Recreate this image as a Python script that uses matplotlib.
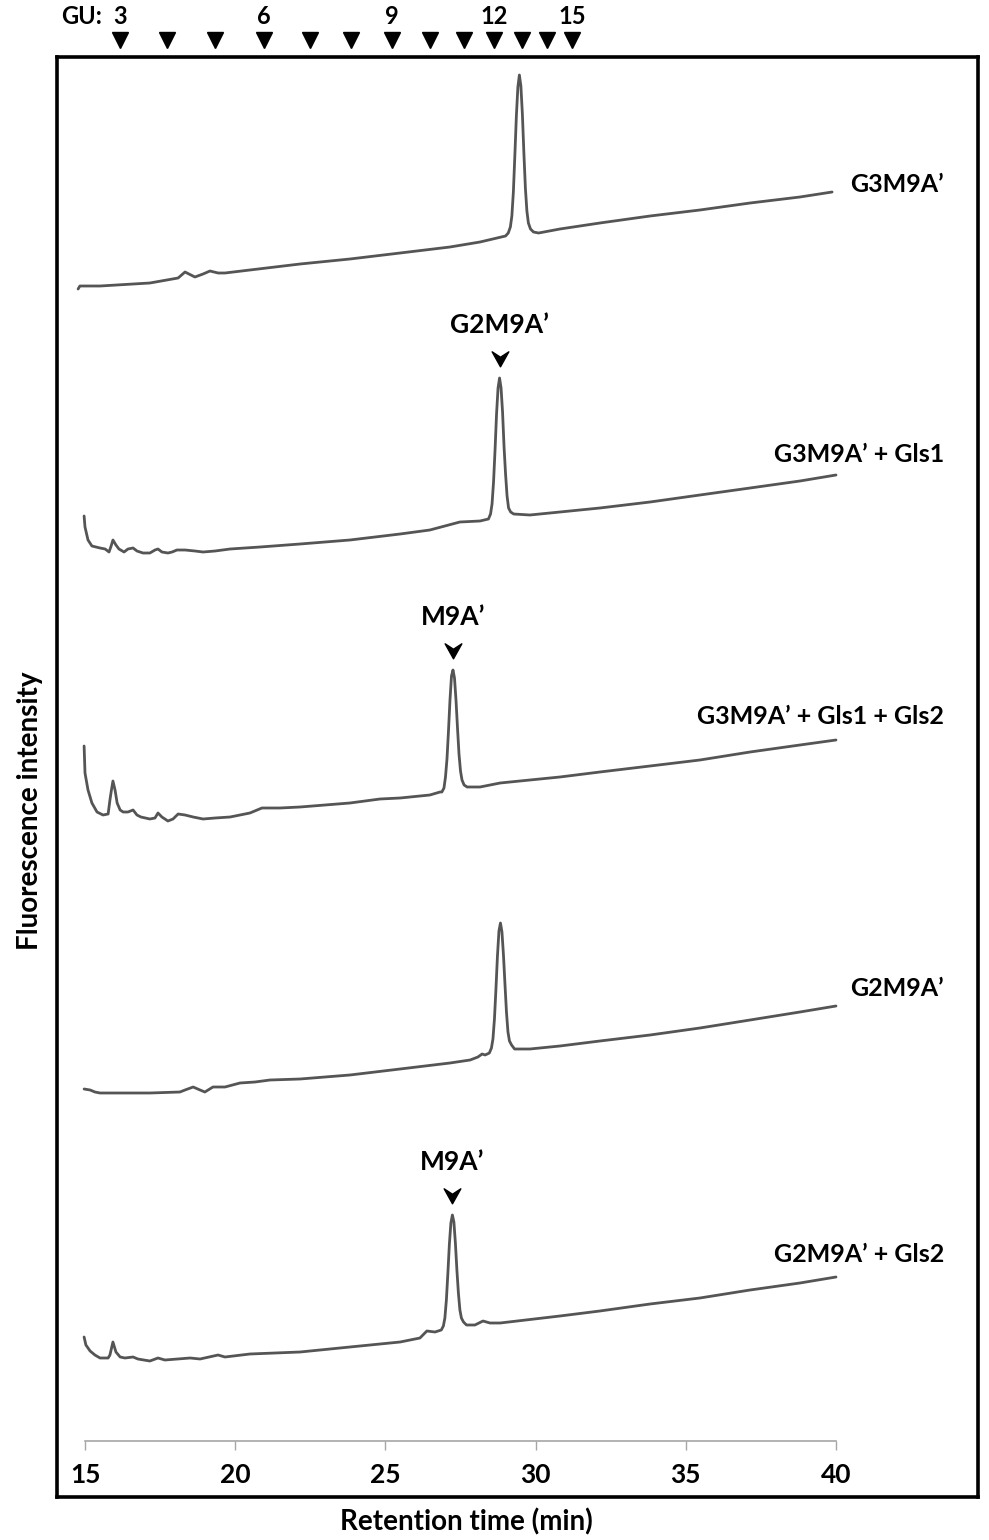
import matplotlib
matplotlib.use("Agg")
import matplotlib.pyplot as plt
from matplotlib.path import Path
import numpy as np

plt.rcParams['font.family'] = ['Lato', 'DejaVu Sans']

# chromatograms: (retention time [min], fluorescence [a.u., own baseline])
g3m9a = [(14.77, 1), (14.83, 4), (15.50, 4), (17.16, 7), (18.10, 12), (18.33, 18),
         (18.46, 16), (18.66, 13), (18.93, 16), (19.16, 19), (19.43, 17), (19.66, 17),
         (20.49, 20), (22.16, 26), (23.82, 31), (25.49, 37), (27.15, 43), (28.15, 48),
         (29.00, 54), (29.09, 57), (29.16, 63), (29.21, 74), (29.26, 98), (29.31, 135),
         (29.36, 174), (29.41, 203), (29.46, 215), (29.51, 204), (29.56, 176), (29.61, 137),
         (29.66, 102), (29.71, 79), (29.76, 67), (29.83, 61), (29.93, 58), (30.10, 57),
         (30.81, 61), (32.14, 67), (33.81, 74), (35.47, 80), (37.14, 87), (38.80, 93),
         (39.87, 98)]

g3m9a_gls1 = [(14.97, 39), (15.00, 28), (15.10, 15), (15.23, 9), (15.50, 7), (15.67, 6),
              (15.80, 3), (15.87, 9), (15.93, 15), (16.03, 10), (16.13, 6), (16.30, 3),
              (16.43, 6), (16.60, 7), (16.73, 4), (16.93, 2), (17.16, 2), (17.33, 5),
              (17.43, 6), (17.56, 3), (17.76, 2), (17.90, 3), (18.06, 5), (18.33, 5),
              (18.66, 4), (18.93, 3), (19.33, 4), (19.83, 6), (20.83, 8), (22.16, 11),
              (23.82, 15), (25.49, 21), (26.48, 25), (27.48, 33), (28.15, 34), (28.43, 36),
              (28.50, 41), (28.55, 51), (28.60, 73), (28.65, 105), (28.70, 141), (28.75, 167),
              (28.80, 177), (28.85, 167), (28.90, 143), (28.95, 108), (29.00, 81), (29.05, 59),
              (29.10, 47), (29.17, 43), (29.27, 41), (29.81, 40), (30.81, 43), (32.14, 47),
              (33.81, 53), (35.47, 60), (37.14, 67), (38.80, 74), (40.00, 80)]

g3m9a_gls12 = [(14.97, 76), (15.00, 49), (15.10, 32), (15.23, 19), (15.40, 10), (15.60, 7),
               (15.77, 8), (15.83, 22), (15.88, 32), (15.93, 41), (16.00, 32), (16.07, 19),
               (16.17, 12), (16.27, 10), (16.43, 10), (16.60, 12), (16.73, 7), (16.86, 5),
               (17.16, 3), (17.33, 4), (17.43, 9), (17.56, 5), (17.76, 1), (17.93, 3),
               (18.10, 8), (18.33, 7), (18.60, 5), (18.93, 3), (19.33, 4), (19.83, 5),
               (20.49, 9), (20.89, 14), (21.49, 14), (22.16, 15), (23.82, 19), (24.82, 23),
               (25.49, 24), (26.48, 27), (26.82, 30), (26.88, 30), (26.95, 34), (27.00, 45),
               (27.05, 63), (27.10, 91), (27.15, 122), (27.20, 146), (27.25, 152), (27.30, 144),
               (27.35, 122), (27.40, 94), (27.45, 68), (27.50, 51), (27.55, 42), (27.62, 37),
               (27.72, 35), (28.15, 35), (28.82, 39), (29.81, 42), (30.81, 45), (32.14, 50),
               (33.81, 56), (35.47, 62), (37.14, 70), (38.80, 77), (40.00, 82)]

g2m9a = [(14.97, 6), (15.17, 5), (15.33, 3), (15.50, 2), (17.16, 2), (18.16, 3),
         (18.33, 5), (18.60, 8), (18.83, 5), (18.99, 3), (19.26, 8), (19.66, 8),
         (20.16, 12), (20.66, 13), (21.16, 15), (22.16, 16), (23.82, 20), (25.49, 26),
         (27.15, 32), (27.82, 35), (28.08, 38), (28.22, 41), (28.32, 40), (28.46, 42),
         (28.53, 47), (28.58, 56), (28.63, 76), (28.68, 106), (28.73, 139), (28.78, 164),
         (28.83, 172), (28.88, 163), (28.93, 140), (28.98, 111), (29.03, 83), (29.08, 63),
         (29.13, 54), (29.20, 50), (29.30, 46), (29.81, 46), (30.81, 49), (32.14, 54),
         (33.81, 60), (35.47, 67), (37.14, 75), (38.80, 83), (40.00, 89)]

g2m9a_gls2 = [(14.97, 25), (15.03, 17), (15.17, 11), (15.33, 7), (15.50, 4), (15.77, 4),
              (15.83, 7), (15.93, 20), (16.03, 10), (16.17, 5), (16.33, 4), (16.60, 5),
              (16.76, 3), (17.16, 1), (17.43, 4), (17.66, 2), (18.50, 4), (18.83, 3),
              (19.43, 7), (19.66, 5), (20.49, 8), (22.16, 10), (23.82, 15), (25.49, 20),
              (26.15, 24), (26.38, 31), (26.65, 30), (26.86, 32), (26.93, 36), (26.98, 44),
              (27.03, 62), (27.08, 89), (27.13, 118), (27.18, 139), (27.23, 147), (27.28, 140),
              (27.33, 119), (27.38, 92), (27.43, 69), (27.48, 52), (27.53, 44), (27.60, 40),
              (27.70, 37), (27.98, 37), (28.25, 41), (28.48, 39), (28.82, 39), (30.81, 46),
              (32.14, 51), (33.81, 58), (35.47, 64), (37.14, 72), (38.80, 79), (40.00, 85)]

traces = [g3m9a, g3m9a_gls1, g3m9a_gls12, g2m9a, g2m9a_gls2]
trace_labels = ['G3M9A\u2019', 'G3M9A\u2019 + Gls1', 'G3M9A\u2019 + Gls1 + Gls2',
                'G2M9A\u2019', 'G2M9A\u2019 + Gls2']
offsets = [1151, 886, 619, 346, 79]
label_y = [1256, 986, 724, 452, 186]

# marked peaks: (trace index, name)
peak_marks = [(1, 'G2M9A\u2019'), (2, 'M9A\u2019'), (4, 'M9A\u2019')]

# glucose unit ladder
gu_units = [3, 4, 5, 6, 7, 8, 9, 10, 11, 12, 13, 14, 15]
gu_times = [16.17, 17.73, 19.33, 20.96, 22.49, 23.85, 25.22, 26.48, 27.62, 28.62,
            29.55, 30.38, 31.22]

W, H = 989, 1540
fig = plt.figure(figsize=(W / 100, H / 100), dpi=100)

frame = fig.add_axes([57 / W, 43 / H, 921 / W, 1440 / H])
frame.set_xticks([])
frame.set_yticks([])
for s in frame.spines.values():
    s.set_linewidth(2.6)
    s.set_color('black')

ax = fig.add_axes([85 / W, 99 / H, 751 / W, 1384 / H])
ax.patch.set_visible(False)
ax.set_xlim(15, 40)
ax.set_ylim(0, 1384)
for side in ['top', 'left', 'right']:
    ax.spines[side].set_visible(False)
ax.spines['bottom'].set_color('#a6a6a6')
ax.spines['bottom'].set_linewidth(1.2)
ax.set_yticks([])
ax.set_xticks([15, 20, 25, 30, 35, 40])
ax.tick_params(axis='x', direction='out', length=6.5, width=1.0, color='#a6a6a6',
               labelsize=19, pad=9)
for lab in ax.get_xticklabels():
    lab.set_fontweight('bold')

for data, off, name, ly in zip(traces, offsets, trace_labels, label_y):
    t, f = np.array(data).T
    ax.plot(t, f + off, color='#555555', lw=2.0, clip_on=False,
            solid_joinstyle='round', solid_capstyle='round')
    ax.text(43.6, ly, name, ha='right', va='center', fontsize=18, fontweight='bold')

chevron = Path([(-1, 0.8), (0, -1), (1, 0.8), (0, 0.15), (-1, 0.8)],
               [Path.MOVETO, Path.LINETO, Path.LINETO, Path.LINETO, Path.CLOSEPOLY])
for idx, name in peak_marks:
    t, f = np.array(traces[idx]).T
    k = np.argmax(f)
    top = f[k] + offsets[idx]
    ax.plot(t[k], top + 20, marker=chevron, ms=12, color='black', clip_on=False)
    ax.text(t[k], top + 53, name, ha='center', va='center', fontsize=19, fontweight='bold')

ax.plot(gu_times, [1401] * len(gu_times), 'v', ms=11, color='black', clip_on=False)
for g, t in zip(gu_units, gu_times):
    if g % 3 == 0:
        ax.text(t, 1424, str(g), ha='center', va='center', fontsize=17, fontweight='bold')
ax.text(15.55, 1424, 'GU:', ha='right', va='center', fontsize=17, fontweight='bold')

fig.text(30 / W, 1 - 811 / H, 'Fluorescence intensity', rotation=90, ha='center',
         va='center', fontsize=20, fontweight='bold')
fig.text(466 / W, 1 - 1522 / H, 'Retention time (min)', ha='center', va='center',
         fontsize=20, fontweight='bold')

fig.savefig('out.png', dpi=100)
